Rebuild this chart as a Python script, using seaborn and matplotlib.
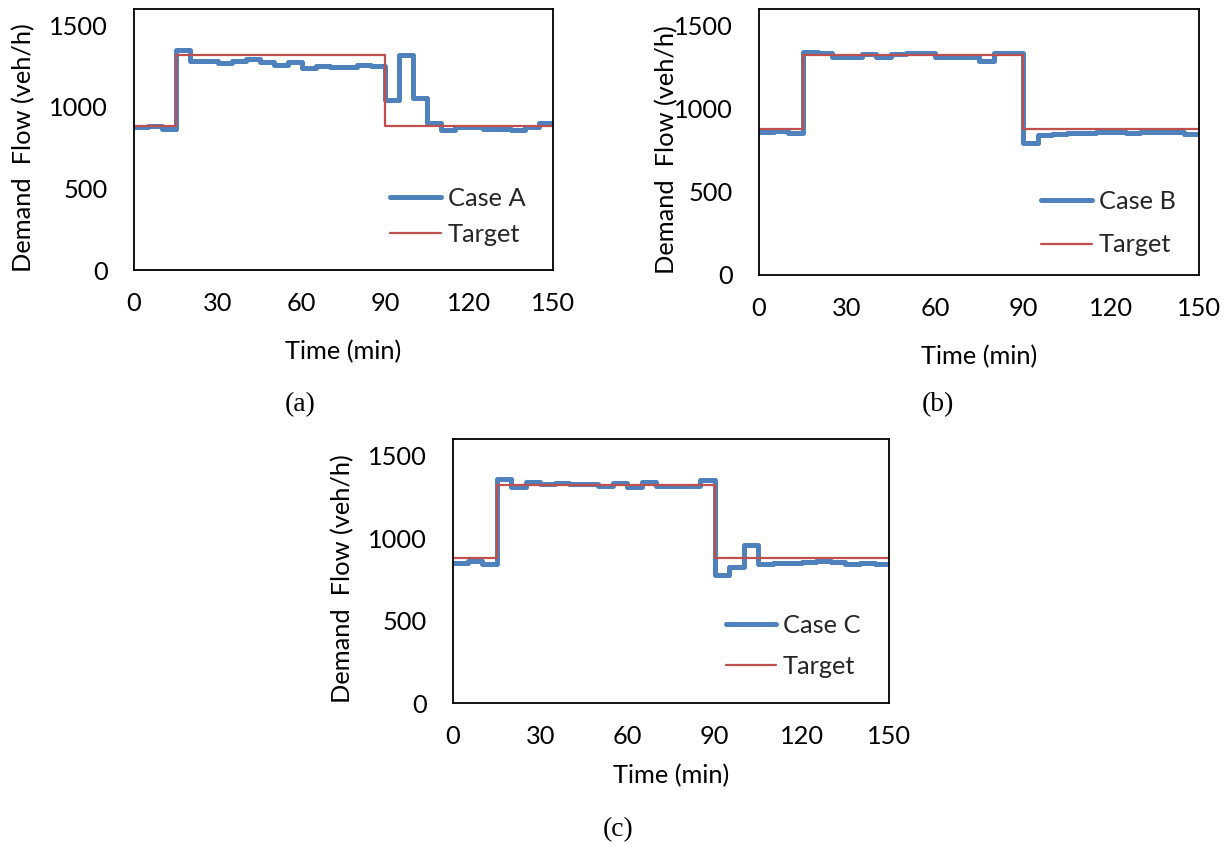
import numpy as np
import pandas as pd
import seaborn as sns
import matplotlib.pyplot as plt

# 5-minute step levels (veh/h), value holds from each start time to the next
t = [0, 5, 10, 15, 20, 25, 30, 35, 40, 45, 50, 55, 60, 65, 70, 75,
     80, 85, 90, 95, 100, 105, 110, 115, 120, 125, 130, 135, 140, 145, 150]
target = [880, 880, 880, 1320, 1320, 1320, 1320, 1320, 1320, 1320, 1320, 1320, 1320, 1320, 1320, 1320,
          1320, 1320, 880, 880, 880, 880, 880, 880, 880, 880, 880, 880, 880, 880, 880]
case_a = [875, 885, 863, 1349, 1281, 1281, 1271, 1283, 1292, 1277, 1257, 1273, 1237, 1253, 1243, 1243,
          1259, 1251, 1042, 1318, 1053, 899, 858, 879, 879, 866, 866, 858, 875, 899, 899]
case_b = [858, 868, 852, 1343, 1337, 1313, 1313, 1327, 1313, 1329, 1333, 1333, 1313, 1313, 1309, 1287,
          1333, 1333, 796, 842, 850, 855, 855, 858, 858, 855, 858, 860, 862, 850, 850]
case_c = [847, 862, 841, 1356, 1311, 1337, 1325, 1331, 1327, 1327, 1315, 1335, 1307, 1337, 1315, 1315,
          1315, 1351, 776, 822, 958, 842, 848, 850, 855, 862, 855, 845, 850, 845, 845]

xticks = [0, 30, 60, 90, 120, 150]
yticks = [0, 500, 1000, 1500]

sns.set_theme(style="white")
plt.rcParams['font.family'] = ['Lato', 'DejaVu Sans']

BLUE = '#4F81BD'
RED = '#C0504D'
FS = 18.3

fig = plt.figure(figsize=(12.3, 8.51), dpi=100)

panels = [
    # data, label, axes rect, ylabel x, xlabel y, legend anchor, labelspacing, caption pos
    (case_a, 'Case A', [0.1089, 0.6827, 0.3407, 0.3067], -0.2625, -0.314, (0.612, 0.318), 0.5, (300, 405), '(a)'),
    (case_b, 'Case B', [0.6171, 0.6769, 0.3577, 0.3126], -0.209, -0.308, (0.642, 0.319), 0.8, (938, 405), '(b)'),
    (case_c, 'Case C', [0.3683, 0.1739, 0.3545, 0.3102], -0.252, -0.277, (0.625, 0.337), 0.7, (618, 830), '(c)'),
]

for vals, name, rect, ylx, xly, anchor, lsp, cap, captxt in panels:
    ax = fig.add_axes(rect)
    df = pd.DataFrame({'time': t, 'flow': vals, 'target': target})
    sns.lineplot(data=df, x='time', y='flow', ax=ax, color=BLUE, linewidth=3.6,
                 drawstyle='steps-post', label=name, solid_joinstyle='round', solid_capstyle='round')
    sns.lineplot(data=df, x='time', y='target', ax=ax, color=RED, linewidth=1.6,
                 drawstyle='steps-post', label='Target')
    ax.set_xlim(0, 150)
    ax.set_ylim(0, 1600)
    ax.set_xticks(xticks)
    ax.set_yticks(yticks)
    ax.tick_params(axis='both', length=0, labelsize=FS, colors='black')
    ax.tick_params(axis='y', pad=19)
    ax.tick_params(axis='x', pad=16)
    for sp in ax.spines.values():
        sp.set_visible(True)
        sp.set_color('black')
        sp.set_linewidth(1.3)
    ax.set_xlabel('Time (min)', fontsize=FS, color='black')
    ax.set_ylabel('Demand  Flow (veh/h)', fontsize=FS, color='black')
    ax.xaxis.label.set_va('center')
    ax.yaxis.label.set_va('center')
    ax.xaxis.set_label_coords(0.5, xly)
    ax.yaxis.set_label_coords(ylx, 0.47)
    ax.legend(loc='upper left', bbox_to_anchor=anchor, frameon=False, fontsize=FS,
              handlelength=2.0, handletextpad=0.25, labelspacing=lsp,
              borderpad=0, borderaxespad=0)
    fig.text(cap[0] / 1230, 1 - cap[1] / 851, captxt, ha='center', va='center',
             fontsize=20, family=['Liberation Serif', 'DejaVu Serif'], color='black')

fig.savefig('out.png', dpi=100)
